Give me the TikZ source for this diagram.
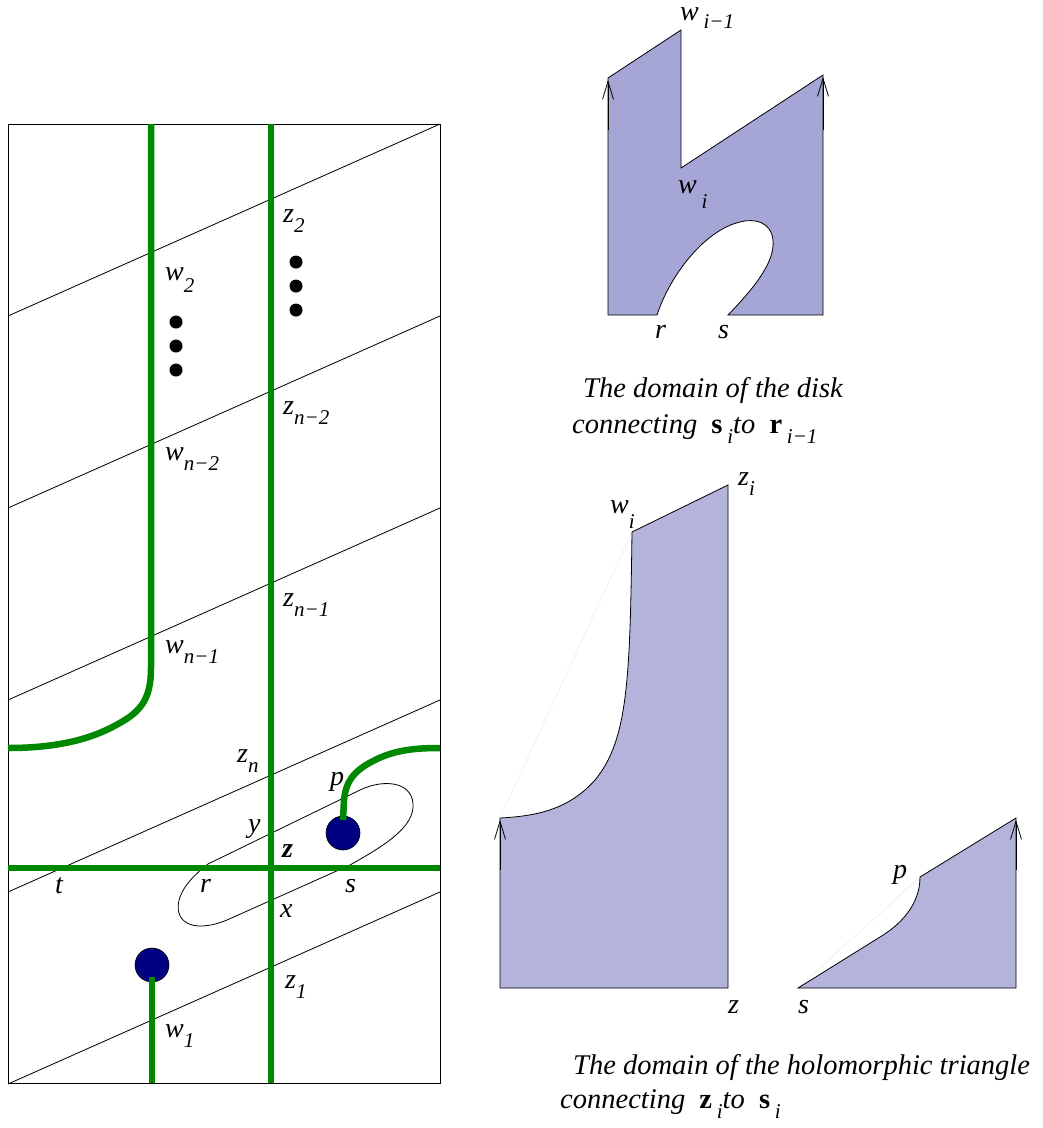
\documentclass[tikz,border=0pt]{standalone}
\usepackage{fontspec}
\setmainfont{Liberation Serif}
\usetikzlibrary{arrows.meta}
\definecolor{curvegreen}{RGB}{0,137,0}
\definecolor{dotblue}{RGB}{0,0,128}
\definecolor{diskfill}{RGB}{166,166,214}
\definecolor{trifill}{RGB}{179,179,219}
\newcommand{\sbx}[2][10pt]{\raisebox{-#1}{\fontsize{21}{22}\selectfont #2}}
\begin{document}
\begin{tikzpicture}[x=1pt,y=-1pt,>=latex]
        \tikzset{
            thinline/.style={line width=0.8pt},
            greenline/.style={curvegreen, line width=6.5pt},
            bigdot/.style={circle, fill=dotblue, draw=black, line width=0.6pt, minimum size=34pt, inner sep=0pt},
            smalldot/.style={circle, fill=black, minimum size=13pt, inner sep=0pt},
            lab/.style={anchor=base west, inner sep=0pt, font=\fontsize{28}{32}\selectfont\itshape},
            caption/.style={anchor=base west, inner sep=0pt, font=\fontsize{28.5}{32}\selectfont\itshape},
            edgearrow/.style={-{Straight Barb[length=18pt,width=11pt]}, thinline}
        }
        \useasboundingbox (0,0) rectangle (1043,1128);

        % left panel: strands and the loop
        \foreach \k in {0,...,4}
            \draw[thinline] (8,{316+192*\k}) -- (440,{124+192*\k});
        \draw[thinline] (208,864) -- (360,790) .. controls (385,778) and (415,782) .. (413,808)
            .. controls (411,830) and (380,848) .. (350,865) -- (227,920)
            .. controls (190,935) and (172,920) .. (180,897) .. controls (185,883) and (198,872) .. (208,864);
        \draw[thinline] (8,124) rectangle (440,1083);

        \node[bigdot] (dotw) at (152,965) {};
        \node[bigdot] (dotp) at (343,833) {};

        \draw[greenline] (151,124) -- (151,668) .. controls (151,700) and (140,712) .. (118,724)
            .. controls (90,740) and (55,748) .. (8,748);
        \draw[greenline] (271,124) -- (271,1083);
        \draw[greenline] (8,868) -- (440,868);
        \draw[greenline] (dotw.center) ++(0,12) -- (152,1083);
        \draw[greenline] (dotp.center) ++(0,-13) -- (344,800) .. controls (346,780) and (355,770) .. (375,760)
            .. controls (395,750) and (415,748) .. (440,748);

        \foreach \y in {262,286,310}
            \node[smalldot] (zdot\y) at (296,\y) {};
        \foreach \y in {322,346,370}
            \node[smalldot] (wdot\y) at (176,\y) {};

        \node[lab] (lz2) at (283,222) {z\sbx{2}};
        \node[lab] (lw2) at (165,280) {w\sbx[12pt]{2}};
        \node[lab] (lzn2) at (283,414) {z\sbx{n−2}};
        \node[lab] (lwn2) at (165,460) {w\sbx{n−2}};
        \node[lab] (lzn1) at (283,606) {z\sbx{n−1}};
        \node[lab] (lwn1) at (165,653) {w\sbx{n−1}};
        \node[lab] (lzn) at (237,762) {z\sbx{n}};
        \node[lab] (ly) at (248,832) {y};
        \node[lab] (lz) at (282,857) {\bfseries z};
        \node[lab] (lp) at (330,785) {p};
        \node[lab] (lt) at (55,893) {t};
        \node[lab] (lr) at (200,892) {r};
        \node[lab] (ls) at (345,892) {s};
        \node[lab] (lx) at (280,917) {x};
        \node[lab] (lz1) at (285,988) {z\sbx{1}};
        \node[lab] (lw1) at (165,1037) {w\sbx{1}};

        % disk domain
        \filldraw[fill=diskfill, thinline] (657,315) -- (608,315) -- (608,78) -- (681,30) -- (681,168)
            -- (823,75) -- (823,315) -- (728,315) .. controls (755,287) and (775,262) .. (773,240)
            .. controls (771,222) and (755,218) .. (740,222) .. controls (705,230) and (670,275) .. (657,315);
        \draw[edgearrow] (608,130) -- (608,80);
        \draw[edgearrow] (823,130) -- (823,77);
        \node[lab] (lwim1) at (680,20) {w\,\sbx[8pt]{i−1}};
        \node[lab] (lwi) at (678,193) {w\,\sbx[15pt]{i}};
        \node[lab] (lrd) at (655,338) {r};
        \node[lab] (lsd) at (718,338) {s};
        \node[caption] (capdisk) at (583,397) {The domain of the disk};
        \node[caption] (capdisktwo) at (572,433) {connecting \ {\upshape\bfseries s}\,\sbx{i}to \ {\upshape\bfseries r}\,\sbx{i−1}};

        % triangle domain
        \draw[gray!20, line width=0.4pt] (500,818) -- (632,532);
        \filldraw[fill=trifill, thinline] (500,818) -- (500,988) -- (728,988) -- (728,485) -- (632,532)
            .. controls (630,680) and (628,740) .. (595,780) .. controls (570,808) and (540,816) .. (500,818) -- cycle;
        \draw[edgearrow] (500,870) -- (500,820);
        \node[lab] (lwit) at (610,513) {w\sbx[15pt]{i}};
        \node[lab] (lzi) at (738,485) {z\sbx{i}};
        \node[lab] (lzt) at (728,1013) {z};

        \draw[gray!20, line width=0.4pt] (798,988) -- (920,877);
        \filldraw[fill=trifill, thinline] (798,988) -- (1016,988) -- (1016,818) -- (920,877)
            .. controls (920,905) and (900,925) .. (880,937) -- cycle;
        \draw[edgearrow] (1016,870) -- (1016,820);
        \node[lab] (lpt) at (893,878) {p};
        \node[lab] (lst) at (798,1013) {s};
        \node[caption] (captri) at (573,1074) {The domain of the holomorphic triangle};
        \node[caption] (captritwo) at (560,1108) {connecting \ {\upshape\bfseries z}\,\sbx{i}to \ {\upshape\bfseries s}\,\sbx{i}};
    \end{tikzpicture}
\end{document}
